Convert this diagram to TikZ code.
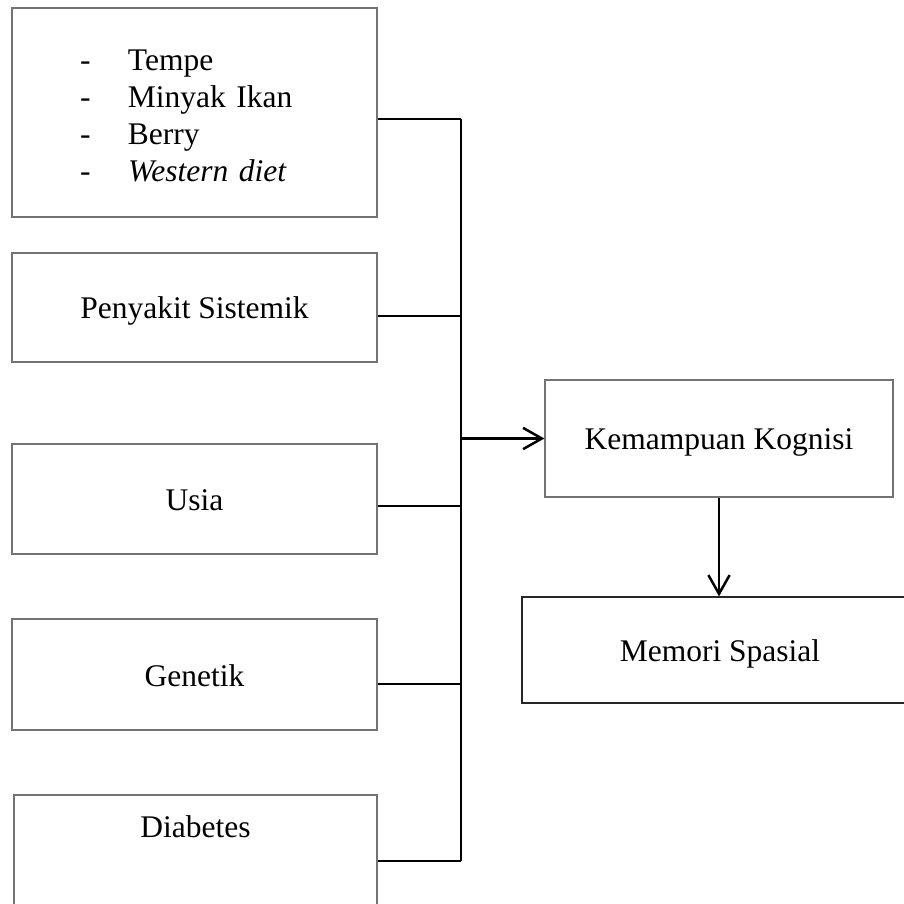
\documentclass[tikz,border=0pt]{standalone}
\usepackage{fontspec}
\setmainfont{Liberation Serif}
\usetikzlibrary{arrows.meta}

\begin{document}
\begin{tikzpicture}[x=0.4pt, y=-0.4pt,
    font=\fontsize{12.6pt}{14.8pt}\selectfont,
    kotak/.style ={rectangle, draw=black!55, line width=0.5pt, inner sep=0pt,
                   minimum width=146pt, minimum height=44pt},
    faktor/.style ={kotak, text height=9.2pt, text depth=0pt},
    panah/.style ={line width=1pt, -{Straight Barb[length=7.5pt,width=8.5pt]}}]
   \useasboundingbox (0,0) rectangle (904,904);

   \node[kotak, minimum height=83.6pt, text width=91.6pt, inner xsep=27.2pt, align=left] (A) at (194.5,112.5)
     {\raisebox{-2.4pt}[\height][\depth]{\begin{tabular}{@{}p{19.2pt}@{}l@{}}
        - & Tempe\\
        - & Minyak Ikan\\
        - & Berry\\
        - & \textit{Western diet}
      \end{tabular}}};
   \node[faktor, minimum height=43.6pt] (B) at (194.5,307.5) {Penyakit Sistemik};
   \node[faktor] (C) at (194.5,499) {Usia};
   \node[faktor, minimum height=44.4pt] (D) at (194.5,674.5) {Genetik};
   \node[faktor, minimum width=145.2pt, minimum height=0pt,
         text height=16.8pt, text depth=27.2pt] (E) at (195.5,850) {Diabetes};
   \node[faktor, minimum width=139.2pt, minimum height=46.8pt] (K) at (719,438.5) {Kemampuan Kognisi};
   \node[faktor, draw=black!85, minimum width=158.4pt, minimum height=42.4pt] (M) at (720,650) {Memori Spasial};

   \coordinate (J1) at (461,119);
   \coordinate (J2) at (461,316);
   \coordinate (J3) at (461,506);
   \coordinate (J4) at (461,684);
   \coordinate (J5) at (461,861);

   \draw[line width=0.5pt] (A.east |- J1) to (J1);
   \draw[line width=0.5pt] (B.east |- J2) to (J2);
   \draw[line width=0.5pt] (C.east |- J3) to (J3);
   \draw[line width=0.5pt] (D.east |- J4) to (J4);
   \draw[line width=0.5pt] (E.east |- J5) to (J5);
   \draw[line width=0.5pt] (J1) to (J5);

   \draw[panah] (J1 |- K.west) to (K.west);
   \draw[panah] (K.south) to (K.south |- M.north);
 \end{tikzpicture}
\end{document}
